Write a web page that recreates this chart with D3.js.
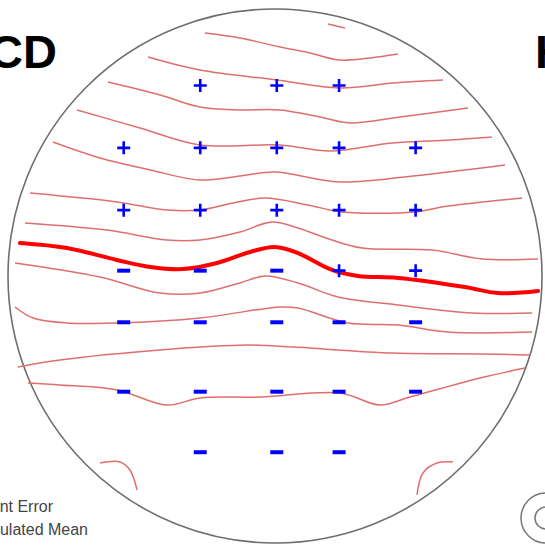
<!DOCTYPE html>
<html>
<head>
<meta charset="utf-8">
<title>CD wafer map</title>
<script src="https://d3js.org/d3.v7.min.js"></script>
<style>
body { margin: 0; background: #fff; }
svg { display: block; }
</style>
</head>
<body>
<div id="chart"></div>
<script>
// wafer coordinates in mm (300 mm wafer), y up
var colsX = [-85, -42, 1, 36, 79];
var rowsY = [107, 72, 37, 3, -26, -65, -99];
// sign of each site, row by row ("" = no site)
var signs = [
  ["", "+", "+", "+", ""],
  ["+", "+", "+", "+", "+"],
  ["+", "+", "+", "+", "+"],
  ["-", "-", "-", "+", "+"],
  ["-", "-", "-", "-", "-"],
  ["-", "-", "-", "-", "-"],
  ["", "-", "-", "-", ""]
];

// contour lines [x, y] in mm
var contourA = [[29.8,141.6],[39.3,139.3]];
var contourB = [[-39.3,136.5],[-19.7,133.7],[2.8,128.7],[19.7,125.3],[36.5,121.3],[53.4,122.5],[69.1,124.7]];
var contourC = [[-71.3,123.0],[-42.1,115.7],[1.1,110.1],[36.5,105.6],[66.3,108.4],[94.4,110.1]];
var contourD = [[-93.8,109.0],[-64.6,101.7],[-42.1,94.9],[-19.7,93.3],[2.8,93.3],[25.3,89.3],[42.1,86.0],[70.2,89.3],[108.4,94.4]];
var contourE = [[-111.2,93.3],[-75.8,83.1],[-42.1,73.6],[2.8,73.6],[30.9,70.2],[65.7,74.7],[98.3,76.4],[121.9,78.1]];
var contourF = [[-124.7,75.3],[-98.3,66.3],[-70.2,59.6],[-42.1,53.9],[-19.7,56.2],[0,58.4],[36.5,52.8],[77.5,56.2],[129.2,62.4]];
var contourG = [[-137.6,46.6],[-88.8,41.6],[-60.7,37.1],[-42.1,37.1],[-23.6,41.0],[-5.6,43.8],[18.5,39.9],[37.6,36.0],[78.7,36.0],[97.2,39.3],[138.8,43.8]];
var contourH = [[-140.5,29.8],[-94.4,25.8],[-60.7,20.2],[-42.1,20.2],[-19.7,24.7],[-1.7,30.3],[12.9,27.0],[32.0,20.2],[48.9,15.7],[88.2,14.6],[116.3,9.6],[147.8,9.6]];
var meanLine = [[-143.3,18.5],[-116.9,15.7],[-88.8,9.0],[-70.2,5.1],[-51.7,3.9],[-32.6,7.3],[-14.0,13.5],[0,16.3],[12.9,12.9],[32.0,3.4],[46.6,0],[69.1,-1.1],[106.7,-6.2],[125.3,-9.6],[147.8,-8.4]];
var contourJ = [[-146.1,7.3],[-98.3,-0.6],[-64.6,-9.6],[-42.1,-9.6],[-19.7,-3.9],[-5.6,0],[12.9,-3.9],[35.4,-11.8],[69.1,-16.3],[110.7,-20.8],[144.4,-20.8]];
var contourK = [[-146.1,-17.4],[-136.0,-23.6],[-116.9,-26.4],[-88.8,-26.4],[-42.1,-23.6],[2.8,-17.4],[12.9,-18.0],[41.0,-26.4],[69.1,-27.5],[97.2,-31.5],[144.4,-31.5]];
var contourL = [[-144.4,-51.1],[-120.8,-47.2],[-64.6,-41.6],[-15.7,-38.8],[10.1,-39.9],[66.3,-43.3],[115.2,-43.8],[143.3,-44.4]];
var contourM = [[-138.8,-60.1],[-120.8,-61.2],[-88.8,-64.0],[-60.7,-72.5],[-42.1,-68.5],[-8.4,-68.0],[36.5,-65.7],[59.0,-72.5],[75.8,-68.0],[115.2,-57.3],[140.5,-51.7]];
var cornerLeft = [[-98.3,-105.1],[-87.1,-104.5],[-81.5,-109.0],[-77.5,-120.2]];
var cornerRight = [[79.8,-123.0],[83.1,-110.7],[91.0,-105.1],[100.0,-104.5]];

var thinLines = [contourA, contourB, contourC, contourD, contourE, contourF, contourG, contourH,
                 contourJ, contourK, contourL, contourM, cornerLeft, cornerRight];

var W = 545, H = 546;
var cx = 275, cy = 276, R = 267;

var svg = d3.select("#chart").append("svg")
    .attr("width", W)
    .attr("height", H);

var x = d3.scaleLinear().domain([-150, 150]).range([cx - R, cx + R]);
var y = d3.scaleLinear().domain([-150, 150]).range([cy + R, cy - R]);

// wafer outline
svg.append("circle")
    .attr("cx", x(0))
    .attr("cy", y(0))
    .attr("r", x(150) - x(0))
    .attr("fill", "none")
    .attr("stroke", "#6e6e6e")
    .attr("stroke-width", 1.6);

var line = d3.line()
    .x(function(d) { return x(d[0]); })
    .y(function(d) { return y(d[1]); })
    .curve(d3.curveCatmullRom.alpha(0.5));

svg.append("g").selectAll("path")
    .data(thinLines)
    .enter().append("path")
    .attr("d", line)
    .attr("fill", "none")
    .attr("stroke", "#df6f6f")
    .attr("stroke-width", 1.5);

svg.append("path")
    .datum(meanLine)
    .attr("d", line)
    .attr("fill", "none")
    .attr("stroke", "#ff0000")
    .attr("stroke-width", 4)
    .attr("stroke-linecap", "round");

// sites
var sites = [];
signs.forEach(function(row, i) {
  row.forEach(function(s, j) {
    if (s) sites.push({x: colsX[j], y: rowsY[i], s: s});
  });
});

var g = svg.append("g").attr("stroke", "#0000ff").attr("fill", "none");
sites.forEach(function(d) {
  var px = x(d.x), py = y(d.y);
  if (d.s == "+") {
    g.append("path")
      .attr("d", "M" + (px - 6.5) + "," + py + "H" + (px + 6.5) + "M" + px + "," + (py - 6.5) + "V" + (py + 6.5))
      .attr("stroke-width", 2.6);
  } else {
    g.append("path")
      .attr("d", "M" + (px - 6.5) + "," + py + "H" + (px + 6.5))
      .attr("stroke-width", 4);
  }
});

// panel titles (neighbouring panels are cut off)
svg.append("text")
    .attr("x", 57).attr("y", 68)
    .attr("text-anchor", "end")
    .style("font", "bold 47px 'Liberation Sans', Arial, sans-serif")
    .text("CD");
svg.append("text")
    .attr("x", 535).attr("y", 68)
    .style("font", "bold 47px 'Liberation Sans', Arial, sans-serif")
    .text("H");

// legend remains, bottom left
svg.append("text")
    .attr("x", 53).attr("y", 512)
    .attr("text-anchor", "end")
    .attr("fill", "#444")
    .style("font", "16px 'Liberation Sans', Arial, sans-serif")
    .text("Measurement Error");
svg.append("text")
    .attr("x", 88).attr("y", 535)
    .attr("text-anchor", "end")
    .attr("fill", "#444")
    .style("font", "16px 'Liberation Sans', Arial, sans-serif")
    .text("Calculated Mean");

// neighbouring symbol, bottom right
svg.append("circle").attr("cx", 546).attr("cy", 518).attr("r", 25)
    .attr("fill", "none").attr("stroke", "#777").attr("stroke-width", 1.5);
svg.append("circle").attr("cx", 546).attr("cy", 518).attr("r", 11)
    .attr("fill", "none").attr("stroke", "#777").attr("stroke-width", 1.5);
</script>
</body>
</html>
